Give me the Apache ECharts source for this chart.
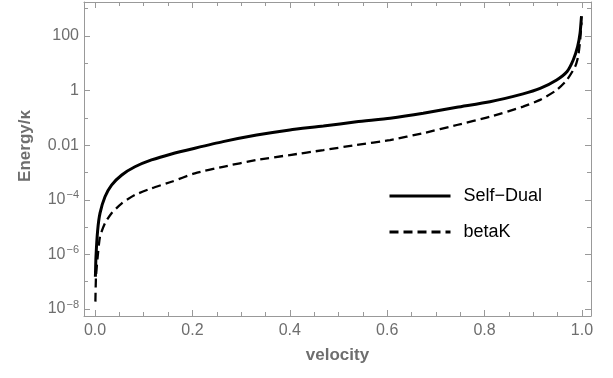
<!DOCTYPE html>
<html>
<head>
<meta charset="utf-8">
<script src="https://cdn.jsdelivr.net/npm/echarts@6/dist/echarts.min.js"></script>
<style>
  html, body { margin: 0; padding: 0; background: #fff; }
  #chart { width: 613px; height: 378px; }
</style>
</head>
<body>
<div id="chart"></div>
<script>
// values; energies kept as log10(Energy/kappa)
const selfDualV = [0.0008, 0.002, 0.0055, 0.0103, 0.0205, 0.034, 0.055, 0.082, 0.116, 0.157, 0.205, 0.263, 0.332, 0.400, 0.469, 0.537, 0.606, 0.674, 0.743, 0.811, 0.879, 0.914, 0.948, 0.969, 0.982, 0.991, 0.996, 0.999];
const selfDualLogE = [-6.82, -6.08, -5.11, -4.49, -3.89, -3.46, -3.09, -2.79, -2.54, -2.32, -2.11, -1.87, -1.63, -1.44, -1.30, -1.14, -1.01, -0.83, -0.61, -0.41, -0.12, 0.08, 0.39, 0.69, 1.12, 1.61, 2.10, 2.73];

const betaKV = [0.0008, 0.002, 0.0055, 0.0103, 0.0205, 0.034, 0.055, 0.082, 0.116, 0.157, 0.205, 0.263, 0.332, 0.400, 0.469, 0.537, 0.606, 0.674, 0.743, 0.811, 0.879, 0.914, 0.948, 0.969, 0.986, 0.992, 0.996, 0.999];
const betaKLogE = [-7.73, -6.82, -6.08, -5.35, -4.86, -4.49, -4.13, -3.82, -3.58, -3.34, -3.03, -2.79, -2.54, -2.36, -2.18, -1.99, -1.81, -1.56, -1.26, -0.96, -0.59, -0.34, 0.02, 0.39, 0.88, 1.24, 1.80, 2.50];

const xMajorTicks = [0, 0.2, 0.4, 0.6, 0.8, 1.0];
const xMinorTicks = [0.05, 0.1, 0.15, 0.25, 0.3, 0.35, 0.45, 0.5, 0.55, 0.65, 0.7, 0.75, 0.85, 0.9, 0.95];
const yMajorTicks = [-8, -6, -4, -2, 0, 2];
const yMinorTicks = [-7, -5, -3, -1, 1, 3];

const frameColor = '#999';
const labelColor = '#6e6e6e';
const font = 'Liberation Sans';
const xMin = -0.0226, xMax = 1.0185;
const yMin = -8.256, yMax = 3.245;

function yLabel(v) {
  if (v === 2) return '100';
  if (v === 0) return '1';
  if (v === -2) return '0.01';
  return '{b|10}{s|\u2212' + (-v) + '}';
}

function xAxisDef(pos, ticks, len, main) {
  return {
    type: 'value', position: pos, min: xMin, max: xMax,
    axisLine: { show: main, onZero: false, lineStyle: { color: frameColor, width: 1 } },
    axisTick: { show: true, inside: true, length: len, customValues: ticks, lineStyle: { color: frameColor } },
    axisLabel: {
      show: main && pos === 'bottom', customValues: xMajorTicks, margin: 7,
      color: labelColor, fontSize: 16, fontFamily: font,
      formatter: v => v.toFixed(1)
    },
    splitLine: { show: false },
    name: main && pos === 'bottom' ? 'velocity' : '',
    nameLocation: 'middle', nameGap: 31,
    nameTextStyle: { color: labelColor, fontSize: 17, fontWeight: 'bold', fontFamily: font }
  };
}

function yAxisDef(pos, ticks, len, main) {
  return {
    type: 'value', position: pos, min: yMin, max: yMax,
    axisLine: { show: main, onZero: false, lineStyle: { color: frameColor, width: 1 } },
    axisTick: { show: true, inside: true, length: len, customValues: ticks, lineStyle: { color: frameColor } },
    axisLabel: {
      show: main && pos === 'left', customValues: yMajorTicks, margin: 5,
      color: labelColor, fontSize: 16, fontFamily: font,
      formatter: yLabel,
      rich: {
        b: { color: labelColor, fontSize: 16, fontFamily: font },
        s: { color: labelColor, fontSize: 11, fontFamily: font, verticalAlign: 'bottom', padding: [0, 0, 9, 1] }
      }
    },
    splitLine: { show: false },
    name: main && pos === 'left' ? 'Energy/\u03ba' : '',
    nameLocation: 'middle', nameGap: 50,
    nameTextStyle: { color: labelColor, fontSize: 17, fontWeight: 'bold', fontFamily: font, padding: [0, 0, 0, 26] }
  };
}

const chart = echarts.init(document.getElementById('chart'), null, { renderer: 'canvas' });

chart.setOption({
  animation: false,
  backgroundColor: '#fff',
  grid: { left: 84, right: 22, top: 2, bottom: 62, containLabel: false },
  legend: {
    orient: 'vertical', left: 383, top: 182, itemWidth: 61, itemHeight: 18, itemGap: 18,
    itemStyle: { opacity: 0 },
    lineStyle: { width: 3 },
    textStyle: { color: '#000', fontSize: 18, fontFamily: font, padding: [0, 0, 0, 8] },
    data: ['Self\u2212Dual', 'betaK']
  },
  xAxis: [
    xAxisDef('bottom', xMajorTicks, 6, true),
    xAxisDef('bottom', xMinorTicks, 4, false),
    xAxisDef('top', xMajorTicks, 6, true),
    xAxisDef('top', xMinorTicks, 4, false)
  ],
  yAxis: [
    yAxisDef('left', yMajorTicks, 6, true),
    yAxisDef('left', yMinorTicks, 4, false),
    yAxisDef('right', yMajorTicks, 6, true),
    yAxisDef('right', yMinorTicks, 4, false)
  ],
  series: [
    {
      name: 'Self\u2212Dual', type: 'line', symbol: 'none', smooth: 0.2,
      xAxisIndex: 0, yAxisIndex: 0,
      lineStyle: { color: '#000', width: 3 },
      itemStyle: { color: '#000' },
      data: selfDualV.map((v, i) => [v, selfDualLogE[i]])
    },
    {
      name: 'betaK', type: 'line', symbol: 'none', smooth: 0.2,
      xAxisIndex: 0, yAxisIndex: 0,
      lineStyle: { color: '#000', width: 2.3, type: [9, 5] },
      itemStyle: { color: '#000' },
      data: betaKV.map((v, i) => [v, betaKLogE[i]])
    }
  ]
});
</script>
</body>
</html>
